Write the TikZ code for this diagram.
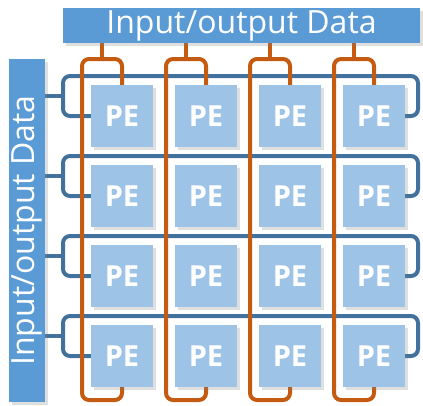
\documentclass[tikz,border=0pt]{standalone}
\usepackage{fontspec}
\setmainfont{Open Sans}
\usetikzlibrary{shadows,backgrounds,calc}

\definecolor{barblue}{HTML}{5B9BD5}
\definecolor{peblue}{HTML}{9DC3E6}
\definecolor{rowblue}{HTML}{41719C}
\definecolor{colorange}{HTML}{C55A11}

\tikzset{
  bar/.style={fill=barblue, text=white, inner sep=0pt,
    font=\fontsize{32}{34}\selectfont,
    drop shadow={opacity=0.25, shadow xshift=2.5pt, shadow yshift=-2.5pt}},
  pe/.style={fill=peblue, text=white, minimum width=62pt, minimum height=62pt,
    inner sep=0pt, font=\fontsize{29}{31}\selectfont\bfseries,
    drop shadow={opacity=0.25, shadow xshift=3pt, shadow yshift=-3pt}},
  oline/.style={draw=colorange, line width=4pt, rounded corners=7pt},
  bline/.style={draw=rowblue, line width=4pt, rounded corners=7pt},
}

\begin{document}
\begin{tikzpicture}[x=1pt, y=-1pt]
				\useasboundingbox (0,0) rectangle (423,405);

				% barres d'entree/sortie
				\node[bar, minimum width=357pt, minimum height=35pt] (topbar) at (241.5,25.5) {Input/output Data};
				\node[bar, minimum width=343pt, minimum height=36pt, rotate=90] (sidebar) at (27,230.5) {Input/output Data};

				% grille des PE
				\foreach \r in {1,...,4}
					\foreach \c in {1,...,4}
						\node[pe] (pe-\r-\c) at ({122+84*(\c-1)}, {116+80*(\r-1)}) {PE};

				\begin{scope}[on background layer]
					% boucles des lignes
					\foreach \r in {1,...,4} {
						\draw[bline] (pe-\r-1.center) -- ++(-59,0) |- ++(355,-40) |- (pe-\r-4.center);
						\coordinate (rowin-\r) at ($(pe-\r-1.center)+(-59,-20)$);
						\draw[bline] (sidebar.south |- rowin-\r) -- (rowin-\r);
					}
					% boucles des colonnes
					\foreach \c in {1,...,4} {
						\draw[oline] (pe-4-\c.center) -- ++(0,44) -| ++(-40,-341) -| (pe-1-\c.center);
						\coordinate (colin-\c) at ($(pe-1-\c.center)+(-20,-57)$);
						\draw[oline] (topbar.south -| colin-\c) -- (colin-\c);
					}
				\end{scope}
			\end{tikzpicture}
\end{document}
